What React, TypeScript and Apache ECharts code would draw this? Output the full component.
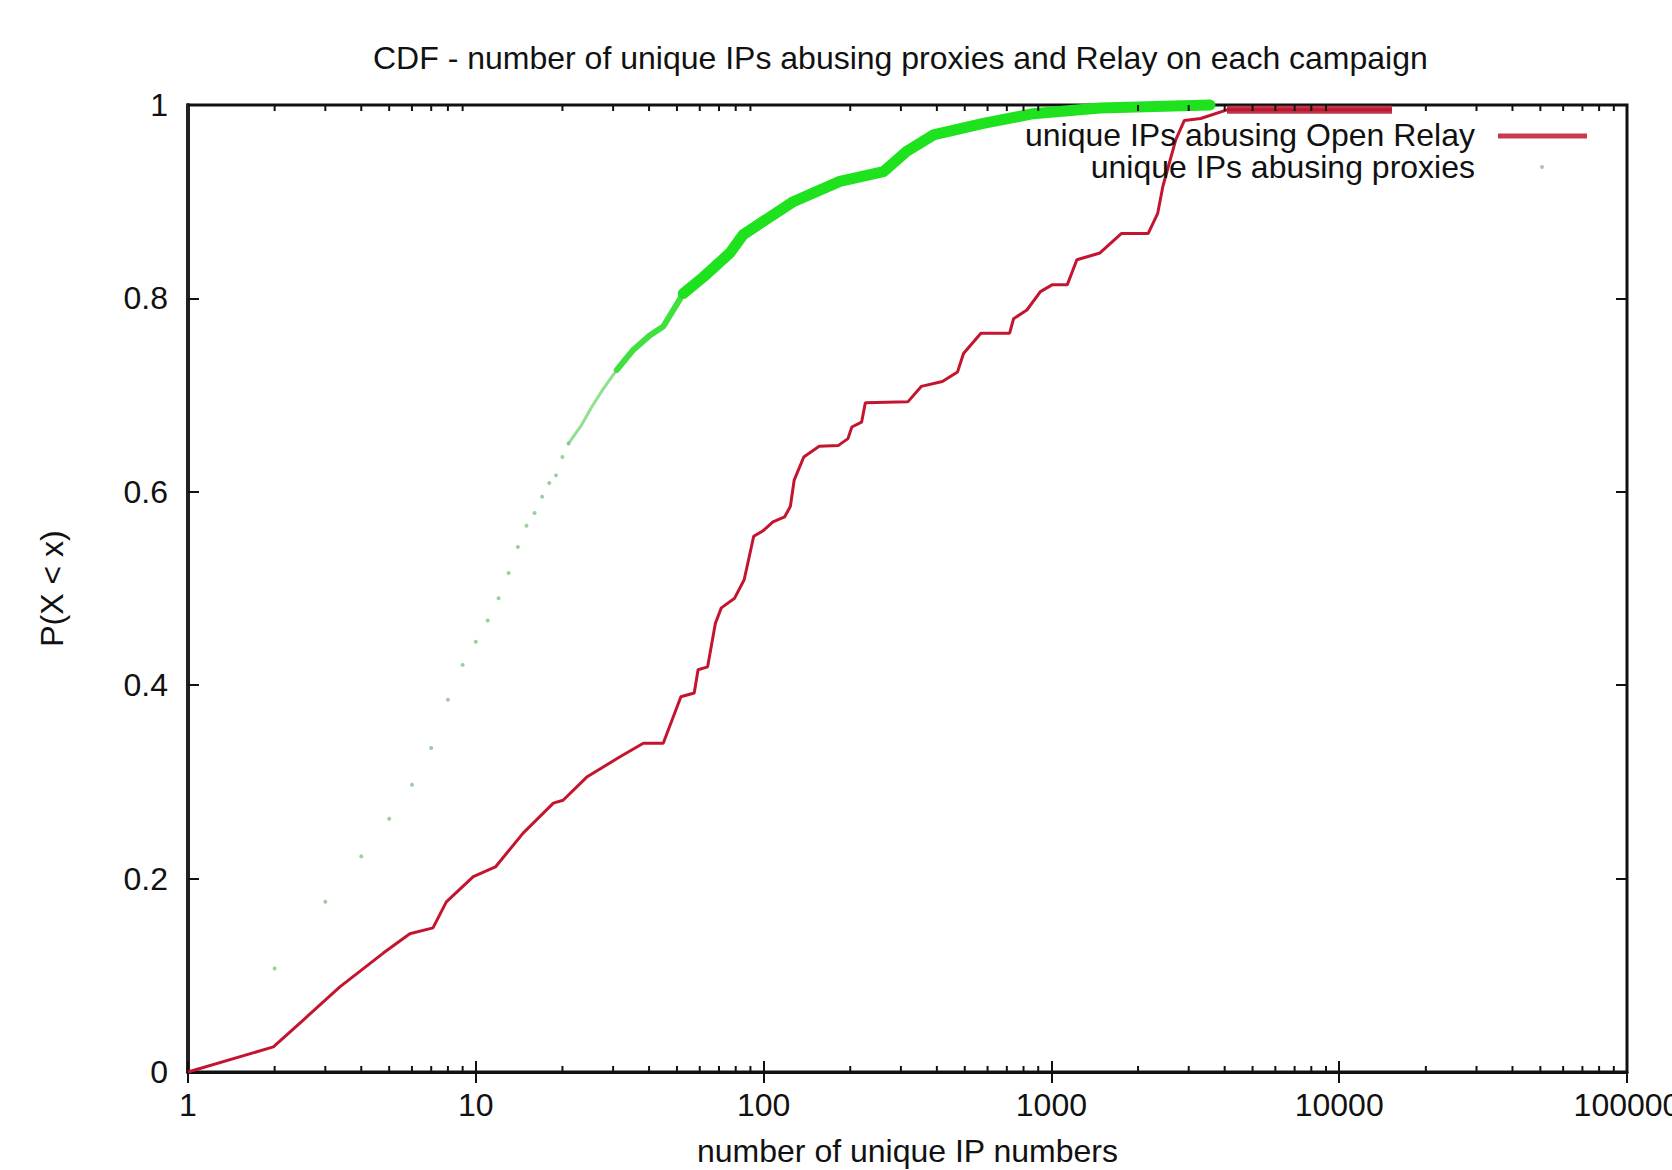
import React, { useEffect, useRef } from "react";
import * as echarts from "echarts";

// ---- data ----
const titleText = "CDF - number of unique IPs abusing proxies and Relay on each campaign";
const xAxisName = "number of unique IP numbers";
const yAxisName = "P(X < x)";
const relayName = "unique IPs abusing Open Relay";
const proxyName = "unique IPs abusing proxies";

const xTickValues = [1, 10, 100, 1000, 10000, 100000];
const minorTickValues = [
  2, 3, 4, 5, 6, 7, 8, 9,
  20, 30, 40, 50, 60, 70, 80, 90,
  200, 300, 400, 500, 600, 700, 800, 900,
  2000, 3000, 4000, 5000, 6000, 7000, 8000, 9000,
  20000, 30000, 40000, 50000, 60000, 70000, 80000, 90000,
];

const relayX = [
  1, 1.98, 2.52, 3.37, 4.77, 5.9, 7.1, 7.9, 9.8, 11.7, 14.6, 18.6, 20.1, 24.3, 31.7, 38.2, 44.8,
  51.6, 57.4, 59.2, 63.9, 68, 71.3, 79.3, 85.6, 92.4, 99.9, 107.8, 118.3, 123.9, 127.7, 137.9,
  156, 182, 196.4, 202.6, 219, 225.7, 317, 353, 418, 472, 495, 569, 716, 739, 822, 916, 1005,
  1135, 1226, 1475, 1749, 2168, 2341, 2440, 2704, 2897, 3300, 4076, 15250,
];
const relayY = [
  0.0, 0.026, 0.054, 0.088, 0.123, 0.143, 0.149, 0.176, 0.202, 0.212, 0.247, 0.278, 0.281, 0.305,
  0.326, 0.34, 0.34, 0.388, 0.392, 0.416, 0.419, 0.464, 0.48, 0.49, 0.509, 0.554, 0.56, 0.569,
  0.574, 0.585, 0.612, 0.636, 0.647, 0.648, 0.655, 0.667, 0.672, 0.692, 0.693, 0.709, 0.714,
  0.724, 0.743, 0.764, 0.764, 0.779, 0.788, 0.807, 0.814, 0.814, 0.84, 0.847, 0.867, 0.867,
  0.888, 0.916, 0.964, 0.984, 0.986, 0.995, 0.995,
];

const proxyDotX = [2, 3, 4, 5, 6, 7, 8, 9, 10, 11, 12, 13, 14, 15, 16, 17, 18, 19, 20, 21];
const proxyDotY = [
  0.107, 0.176, 0.223, 0.262, 0.297, 0.335, 0.385, 0.421, 0.445, 0.467, 0.49, 0.516, 0.543,
  0.565, 0.578, 0.595, 0.609, 0.617, 0.636, 0.65,
];
const proxyThinX = [21, 23.3, 25.3, 27.8, 30.9];
const proxyThinY = [0.65, 0.669, 0.688, 0.707, 0.726];
const proxyMidX = [30.9, 35.3, 40.3, 44.8, 52.6];
const proxyMidY = [0.726, 0.747, 0.762, 0.771, 0.805];
const proxyBandX = [52.6, 61.7, 76.4, 85, 126.8, 184, 261, 314, 389, 580, 865, 1475, 3556];
const proxyBandY = [0.805, 0.822, 0.847, 0.866, 0.9, 0.921, 0.931, 0.952, 0.969, 0.981, 0.991, 0.997, 1.0];

const zip = (xs: number[], ys: number[]) => xs.map((x, i) => [x, ys[i]]);

const RED = "#c3162e";
const GREEN = "#1fe21f";
const FONT = "Liberation Sans";

export default function App() {
  const ref = useRef<HTMLDivElement>(null);

  useEffect(() => {
    if (!ref.current) return;
    const chart = echarts.init(ref.current, undefined, { renderer: "svg" });

    const relayData = zip(relayX, relayY);
    const relayPlateau = relayData.filter((p) => p[0] >= 4000);

    const left = 188, right = 45, top = 105, bottom = 98;

    const option: any = {
      animation: false,
      backgroundColor: "#ffffff",
      title: {
        text: titleText,
        left: 368,
        top: 37,
        textStyle: { fontFamily: FONT, fontSize: 32, fontWeight: "normal", color: "#111" },
      },
      grid: {
        left, right, top, bottom,
        outerBoundsMode: "none",
        containLabel: false,
        show: true,
        borderColor: "#111",
        borderWidth: 3,
        backgroundColor: "transparent",
      },
      xAxis: [
        {
          type: "log",
          logBase: 10,
          min: 1,
          max: 100000,
          position: "bottom",
          name: xAxisName,
          nameLocation: "middle",
          nameGap: 63,
          nameTextStyle: { fontFamily: FONT, fontSize: 32, color: "#111", lineHeight: 32 },
          axisLine: { show: true, lineStyle: { color: "#111", width: 3 } },
          axisTick: { show: true, inside: true, length: 11, lineStyle: { color: "#111", width: 2 } },
          axisLabel: {
            fontFamily: FONT,
            fontSize: 32,
            color: "#111",
            margin: 17,
            formatter: (v: number) => (xTickValues.includes(v) ? String(v) : ""),
          },
          splitLine: { show: false },
        },
        {
          type: "log",
          logBase: 10,
          min: 1,
          max: 100000,
          position: "top",
          axisLine: { show: false },
          axisTick: { show: true, inside: true, length: 11, lineStyle: { color: "#111", width: 2 } },
          axisLabel: { show: false },
          splitLine: { show: false },
        },
      ],
      yAxis: [
        {
          type: "value",
          min: 0,
          max: 1,
          interval: 0.2,
          position: "left",
          name: yAxisName,
          nameLocation: "middle",
          nameGap: 120,
          nameTextStyle: { fontFamily: FONT, fontSize: 32, color: "#111" },
          axisLine: { show: true, lineStyle: { color: "#222", width: 4 } },
          axisTick: { show: true, inside: true, length: 11, lineStyle: { color: "#111", width: 2 } },
          axisLabel: { fontFamily: FONT, fontSize: 32, color: "#111", margin: 20 },
          splitLine: { show: false },
        },
        {
          type: "value",
          min: 0,
          max: 1,
          interval: 0.2,
          position: "right",
          axisLine: { show: false },
          axisTick: { show: true, inside: true, length: 11, lineStyle: { color: "#111", width: 2 } },
          axisLabel: { show: false },
          splitLine: { show: false },
        },
      ],
      series: [
        {
          type: "custom",
          name: "minorTicks",
          silent: true,
          clip: false,
          xAxisIndex: 0,
          yAxisIndex: 0,
          data: minorTickValues.map((v) => [v, 0]),
          renderItem: (params: any, api: any) => {
            const v = api.value(0);
            const b = api.coord([v, 0]);
            const t = api.coord([v, 1]);
            const style = { stroke: "#111", lineWidth: 2 };
            return {
              type: "group",
              children: [
                { type: "line", shape: { x1: b[0], y1: b[1], x2: b[0], y2: b[1] - 6 }, style },
                { type: "line", shape: { x1: t[0], y1: t[1], x2: t[0], y2: t[1] + 6 }, style },
              ],
            };
          },
          z: 5,
        },
        {
          type: "scatter",
          name: proxyName,
          data: zip(proxyDotX, proxyDotY),
          symbol: "circle",
          symbolSize: 4,
          itemStyle: { color: "#86c086" },
          z: 3,
        },
        {
          type: "line",
          name: proxyName + " (thin)",
          data: zip(proxyThinX, proxyThinY),
          showSymbol: false,
          lineStyle: { color: "#8fe08f", width: 3, cap: "round", join: "round" },
          z: 3,
        },
        {
          type: "line",
          name: proxyName + " (mid)",
          data: zip(proxyMidX, proxyMidY),
          showSymbol: false,
          lineStyle: { color: "#3fe03f", width: 6, cap: "round", join: "round" },
          z: 3,
        },
        {
          type: "line",
          name: proxyName + " (band)",
          data: zip(proxyBandX, proxyBandY),
          showSymbol: false,
          clip: false,
          lineStyle: { color: GREEN, width: 11, cap: "round", join: "round" },
          z: 3,
        },
        {
          type: "line",
          name: relayName,
          data: relayData,
          showSymbol: false,
          lineStyle: { color: RED, width: 3 },
          z: 4,
        },
        {
          type: "line",
          name: relayName + " (plateau)",
          data: relayPlateau,
          showSymbol: false,
          lineStyle: { color: "#b8394c", width: 8 },
          z: 2,
        },
      ],
      graphic: [
        {
          type: "text",
          x: 1475,
          y: 135,
          style: {
            text: relayName,
            fontFamily: FONT,
            fontSize: 32,
            lineHeight: 30,
            fill: "#111",
            textAlign: "right",
            textVerticalAlign: "middle",
          },
          z: 10,
        },
        {
          type: "line",
          shape: { x1: 1498, y1: 136, x2: 1587, y2: 136 },
          style: { stroke: "#c93a4e", lineWidth: 5 },
          z: 10,
        },
        {
          type: "text",
          x: 1475,
          y: 167,
          style: {
            text: proxyName,
            fontFamily: FONT,
            fontSize: 32,
            lineHeight: 30,
            fill: "#111",
            textAlign: "right",
            textVerticalAlign: "middle",
          },
          z: 10,
        },
        {
          type: "circle",
          shape: { cx: 1542, cy: 167, r: 2 },
          style: { fill: "#a8c8a8" },
          z: 10,
        },
      ],
    };

    chart.setOption(option);
    return () => chart.dispose();
  }, []);

  return (
    <div
      ref={ref}
      style={{ position: "fixed", left: 0, top: 0, width: 1672, height: 1170, background: "#fff" }}
    />
  );
}
